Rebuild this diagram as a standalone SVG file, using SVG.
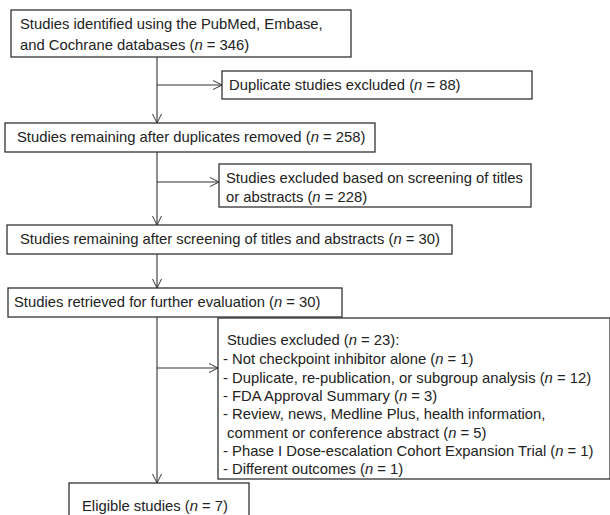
<svg xmlns="http://www.w3.org/2000/svg" width="610" height="515" viewBox="0 0 610 515">
<defs>
<marker id="ah" viewBox="0 0 10 10" refX="10" refY="5" markerWidth="10" markerHeight="10" markerUnits="userSpaceOnUse" orient="auto">
<path d="M1,0.5 L10,5 L1,9.5" fill="none" stroke="#333" stroke-width="1"/>
</marker>
</defs>
<style>
rect{fill:#fff;stroke:#333;stroke-width:1.3}
text{font-family:"Liberation Sans",Arial,sans-serif;font-size:14.8px;fill:#222}
.i{font-style:italic}
#connectors line{stroke:#333;stroke-width:1.1}
.a{marker-end:url(#ah)}
</style>
<rect x="0" y="0" width="610" height="515" style="fill:#fff;stroke:none"/>
<g id="connectors">
<line x1="157" y1="57" x2="157" y2="123" class="a"/>
<line x1="157" y1="85" x2="222" y2="85" class="a"/>
<line x1="157" y1="152" x2="157" y2="225" class="a"/>
<line x1="157" y1="182" x2="219" y2="182" class="a"/>
<line x1="157" y1="254" x2="157" y2="288" class="a"/>
<line x1="157" y1="317" x2="157" y2="483" class="a"/>
<line x1="157" y1="368" x2="218" y2="368" class="a"/>
</g>
<g id="n1">
<rect x="11" y="10" width="340" height="47"/>
<text x="20" y="29">Studies identified using the PubMed, Embase,</text>
<text x="20" y="50">and Cochrane databases (<tspan class="i">n</tspan> = 346)</text>
</g>
<g id="n2">
<rect x="222" y="71" width="310" height="28"/>
<text x="229" y="90">Duplicate studies excluded (<tspan class="i">n</tspan> = 88)</text>
</g>
<g id="n3">
<rect x="5" y="123" width="370" height="29"/>
<text x="17" y="142">Studies remaining after duplicates removed (<tspan class="i">n</tspan> = 258)</text>
</g>
<g id="n4">
<rect x="219" y="164" width="312" height="43"/>
<text x="226" y="183">Studies excluded based on screening of titles</text>
<text x="226" y="202">or abstracts (<tspan class="i">n</tspan> = 228)</text>
</g>
<g id="n5">
<rect x="7" y="225" width="445" height="29"/>
<text x="20" y="244">Studies remaining after screening of titles and abstracts (<tspan class="i">n</tspan> = 30)</text>
</g>
<g id="n6">
<rect x="8" y="288" width="334" height="29"/>
<text x="14" y="307">Studies retrieved for further evaluation (<tspan class="i">n</tspan> = 30)</text>
</g>
<g id="n7">
<rect x="218" y="318" width="392" height="161"/>
<text x="227" y="345">Studies excluded (<tspan class="i">n</tspan> = 23):</text>
<text x="223" y="364">- Not checkpoint inhibitor alone (<tspan class="i">n</tspan> = 1)</text>
<text x="223" y="383">- Duplicate, re-publication, or subgroup analysis (<tspan class="i">n</tspan> = 12)</text>
<text x="223" y="401">- FDA Approval Summary (<tspan class="i">n</tspan> = 3)</text>
<text x="223" y="419">- Review, news, Medline Plus, health information,</text>
<text x="227" y="438">comment or conference abstract (<tspan class="i">n</tspan> = 5)</text>
<text x="223" y="456">- Phase I Dose-escalation Cohort Expansion Trial (<tspan class="i">n</tspan> = 1)</text>
<text x="223" y="474">- Different outcomes (<tspan class="i">n</tspan> = 1)</text>
</g>
<g id="n8">
<rect x="69" y="483" width="180" height="40"/>
<text x="82" y="511">Eligible studies (<tspan class="i">n</tspan> = 7)</text>
</g>
</svg>
